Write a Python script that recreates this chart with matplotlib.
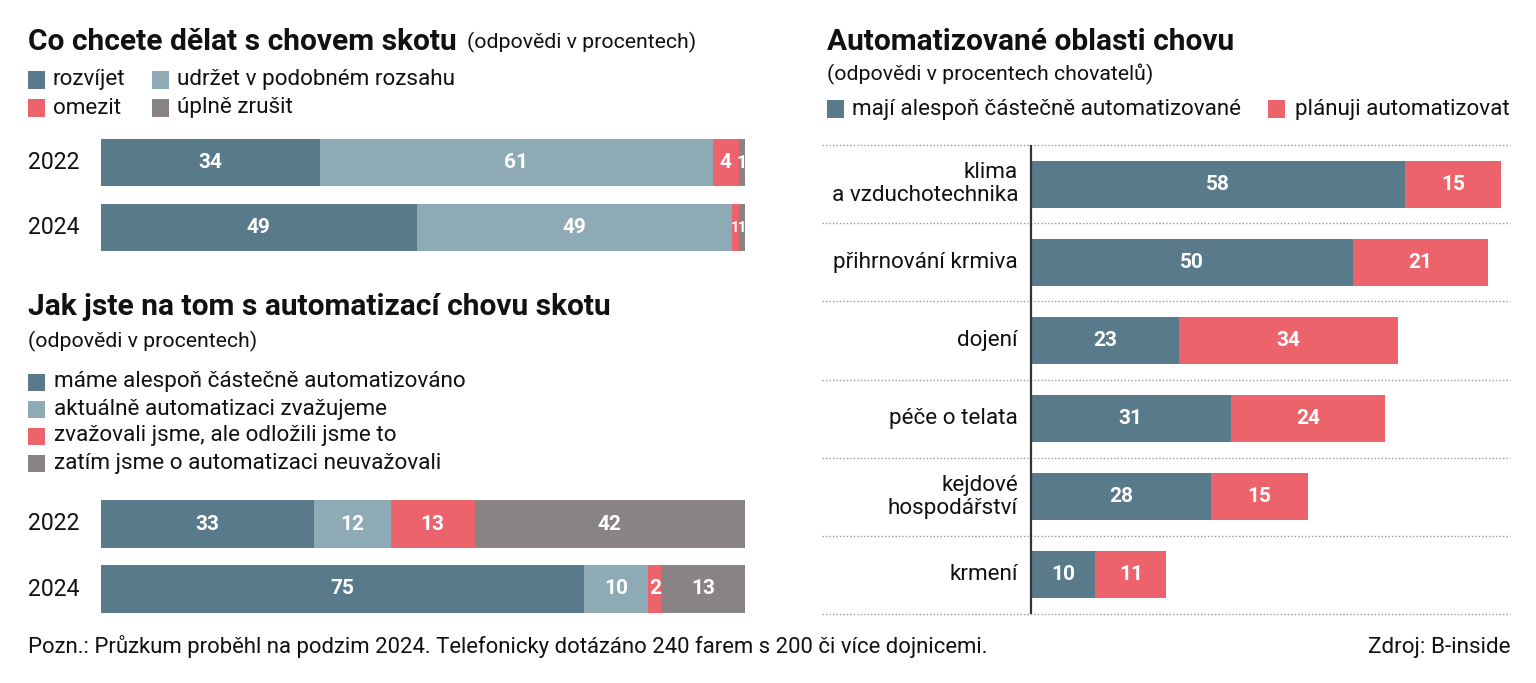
import matplotlib
matplotlib.use("Agg")
import matplotlib.pyplot as plt
from matplotlib.patches import Rectangle

W, H = 1536, 683

# --- data ---
years = ['2022', '2024']

plan_labels = ['rozvíjet', 'udržet v podobném rozsahu', 'omezit', 'úplně zrušit']
plan_2022 = [34, 61, 4, 1]
plan_2024 = [49, 49, 1, 1]

auto_labels = ['máme alespoň částečně automatizováno',
               'aktuálně automatizaci zvažujeme',
               'zvažovali jsme, ale odložili jsme to',
               'zatím jsme o automatizaci neuvažovali']
auto_2022 = [33, 12, 13, 42]
auto_2024 = [75, 10, 2, 13]

areas = ['klima\na vzduchotechnika', 'přihrnování krmiva', 'dojení',
         'péče o telata', 'kejdové\nhospodářství', 'krmení']
area_have = [58, 50, 23, 31, 28, 10]
area_plan = [15, 21, 34, 24, 15, 11]
area_labels = ['mají alespoň částečně automatizované', 'plánuji automatizovat']

colors = ['#587a8a', '#8eaab5', '#ec636b', '#898383']
TXT = '#111111'

plt.rcParams['font.family'] = ['Roboto', 'DejaVu Sans']

fig = plt.figure(figsize=(W / 100, H / 100), dpi=100)


def rect(left, top, w, h):
    return [left / W, 1 - (top + h) / H, w / W, h / H]


def ftext(x, y, s, **kw):
    kw.setdefault('va', 'center')
    kw.setdefault('color', TXT)
    fig.text(x / W, 1 - y / H, s, **kw)


def square(x, y, c, size=17):
    fig.add_artist(Rectangle((x / W, 1 - (y + size / 2) / H), size / W, size / H,
                             transform=fig.transFigure, color=c, lw=0))


def value_label(ax, x, y, v, crowded=False):
    # tiny segments next to other tiny ones get a smaller number
    fs = 10.5 if crowded else 15 if v >= 2 else 13
    ax.text(x, y, str(v), ha='center', va='center', color='white',
            fontsize=fs, fontweight='bold')


def stacked(ax, rows, height):
    for i, vals in enumerate(rows):
        left = 0
        for j, v in enumerate(vals):
            ax.barh(i, v, left=left, height=height, color=colors[j], lw=0)
            nb = [vals[k] for k in (j - 1, j + 1) if 0 <= k < len(vals)]
            crowded = v < 2 and min(nb) < 2
            value_label(ax, left + v / 2, i, v, crowded)
            left += v
    ax.set_xlim(0, 100)
    ax.set_ylim(len(rows) - 0.5, -0.5)
    ax.axis('off')


# --- chart 1 ---
ftext(28, 42, 'Co chcete dělat s chovem skotu', fontsize=21.5, fontweight='bold')
ftext(467, 42, '(odpovědi v procentech)', fontsize=15.3)
leg_pos = [(28, 80), (152, 80), (28, 108), (152, 108)]
for (x, y), lab, c in zip(leg_pos, plan_labels, colors):
    square(x, y, c)
    ftext(x + 25, y, lab, fontsize=16.2)

ax1 = fig.add_axes(rect(101, 130, 644, 130))
stacked(ax1, [plan_2022, plan_2024], 0.73)
for i, yr in enumerate(years):
    ftext(28, 162.5 + 65 * i, yr, fontsize=16.6)

# --- chart 2 ---
ftext(28, 307, 'Jak jste na tom s automatizací chovu skotu', fontsize=21.5, fontweight='bold')
ftext(28, 341, '(odpovědi v procentech)', fontsize=15.3)
for k, (lab, c) in enumerate(zip(auto_labels, colors)):
    y = 382 + 27 * k
    square(28, y, c)
    ftext(54, y, lab, fontsize=16.2)

ax2 = fig.add_axes(rect(101, 491.5, 644, 130))
stacked(ax2, [auto_2022, auto_2024], 0.73)
for i, yr in enumerate(years):
    ftext(28, 524 + 65.5 * i, yr, fontsize=16.6)

# --- chart 3 ---
ftext(827, 42, 'Automatizované oblasti chovu', fontsize=21.5, fontweight='bold')
ftext(827, 74, '(odpovědi v procentech chovatelů)', fontsize=15.3)
square(827, 109, colors[0])
ftext(852, 109, area_labels[0], fontsize=16.1)
square(1268, 109, colors[2])
ftext(1295, 109, area_labels[1], fontsize=16.1)

ax3 = fig.add_axes(rect(822, 145, 688, 469))
scale = 6.44
ax3.set_xlim(-(1031 - 822) / scale, (1510 - 1031) / scale)
ax3.set_ylim(len(areas) - 0.5, -0.5)
for i, (name, a, b) in enumerate(zip(areas, area_have, area_plan)):
    ax3.barh(i, a, height=0.6, color=colors[0], lw=0)
    ax3.barh(i, b, left=a, height=0.6, color=colors[2], lw=0)
    value_label(ax3, a / 2, i, a)
    value_label(ax3, a + b / 2, i, b)
    ax3.text(-2.0, i, name, ha='right', va='center', color=TXT, fontsize=16.2,
             linespacing=1.1)
for k in range(len(areas) + 1):
    ax3.axhline(k - 0.5, color='#9a9a9a', lw=1, ls=(0, (1, 1.5)), clip_on=False)
ax3.axvline(0, color='#333333', lw=1.6)
ax3.axis('off')

# --- footer ---
ftext(28, 647, 'Pozn.: Průzkum proběhl na podzim 2024. Telefonicky dotázáno 240 farem '
      's 200 či více dojnicemi.', fontsize=15.9)
ftext(1510, 647, 'Zdroj: B-inside', fontsize=16.2, ha='right')

fig.savefig('out.png', dpi=100, facecolor='white')
